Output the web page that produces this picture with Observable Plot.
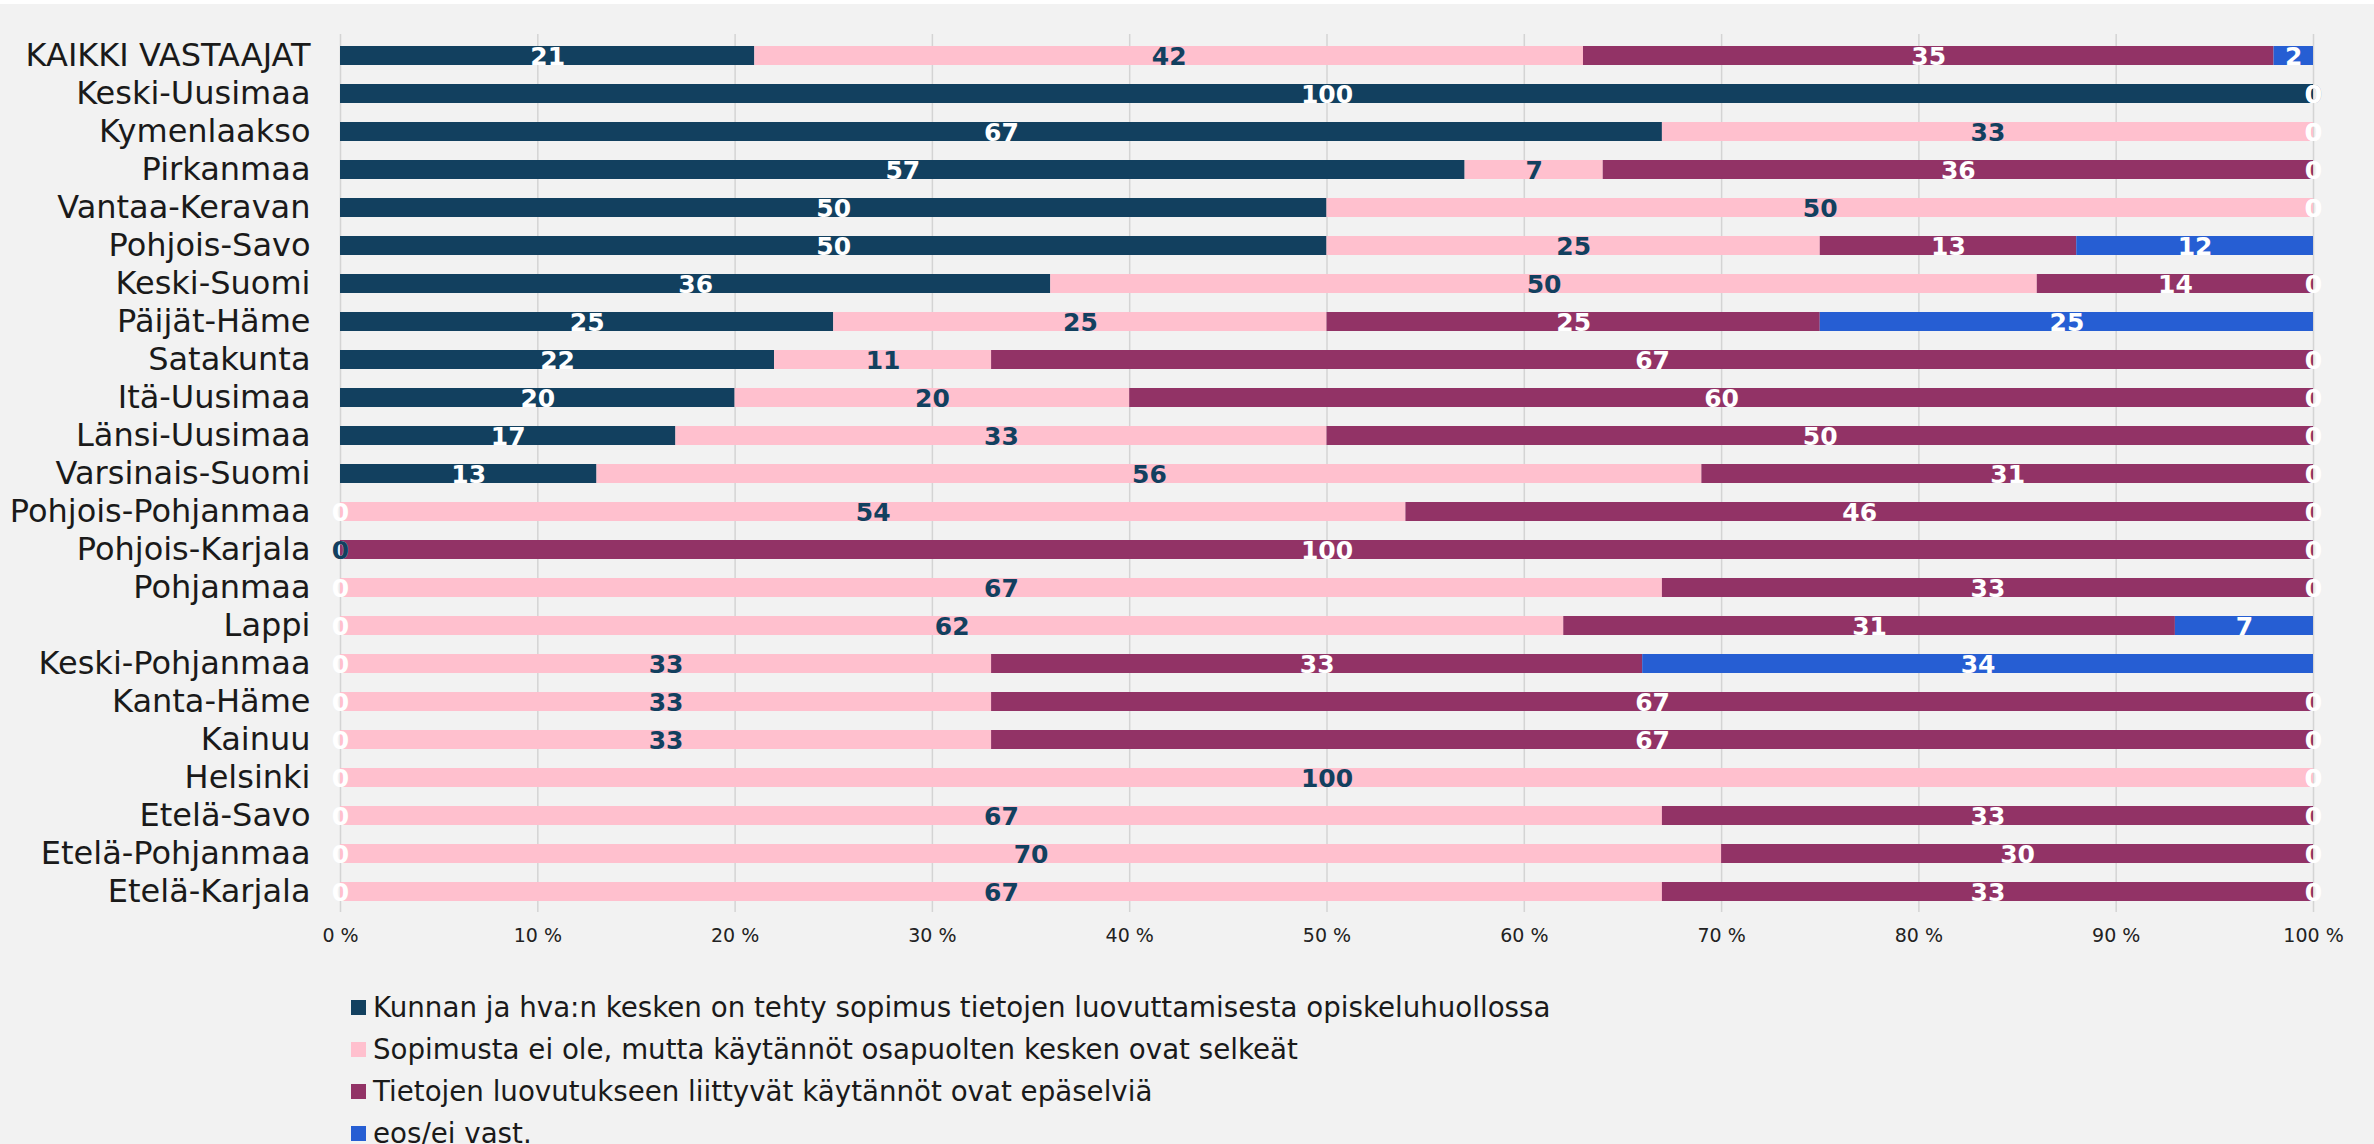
<!DOCTYPE html>
<html>
<head>
<meta charset="utf-8">
<script src="https://cdn.jsdelivr.net/npm/d3@7"></script>
<script src="https://cdn.jsdelivr.net/npm/@observablehq/plot@0.6"></script>
<style>
  html, body { margin: 0; padding: 0; background: #f2f2f2; }
  body { width: 2374px; height: 1144px; overflow: hidden; position: relative; font-family: "DejaVu Sans", sans-serif; }
  #topstrip { position: absolute; left: 0; top: 0; width: 2374px; height: 4px; background: #ffffff; }
  #chart { position: absolute; left: 0; top: 0; }
  #legend { position: absolute; left: 351px; top: 986.5px; }
  .item { display: flex; align-items: center; height: 42px; font-size: 27.7px; color: #1a1a1a; white-space: nowrap; }
  .sw { width: 15px; height: 15px; margin-right: 7px; flex: none; }
</style>
</head>
<body>
<div id="topstrip"></div>
<div id="chart"></div>
<div id="legend"></div>
<script>
const regions = [
  "KAIKKI VASTAAJAT", "Keski-Uusimaa", "Kymenlaakso", "Pirkanmaa", "Vantaa-Keravan",
  "Pohjois-Savo", "Keski-Suomi", "Päijät-Häme", "Satakunta", "Itä-Uusimaa",
  "Länsi-Uusimaa", "Varsinais-Suomi", "Pohjois-Pohjanmaa", "Pohjois-Karjala", "Pohjanmaa",
  "Lappi", "Keski-Pohjanmaa", "Kanta-Häme", "Kainuu", "Helsinki",
  "Etelä-Savo", "Etelä-Pohjanmaa", "Etelä-Karjala"
];
const seriesNames = [
  "Kunnan ja hva:n kesken on tehty sopimus tietojen luovuttamisesta opiskeluhuollossa",
  "Sopimusta ei ole, mutta käytännöt osapuolten kesken ovat selkeät",
  "Tietojen luovutukseen liittyvät käytännöt ovat epäselviä",
  "eos/ei vast."
];
const sopimus   = [21, 100, 67, 57, 50, 50, 36, 25, 22, 20, 17, 13, 0, 0, 0, 0, 0, 0, 0, 0, 0, 0, 0];
const selkeat   = [42, 0, 33, 7, 50, 25, 50, 25, 11, 20, 33, 56, 54, 0, 67, 62, 33, 33, 33, 100, 67, 70, 67];
const epaselvia = [35, 0, 0, 36, 0, 13, 14, 25, 67, 60, 50, 31, 46, 100, 33, 31, 33, 67, 67, 0, 33, 30, 33];
const eos       = [2, 0, 0, 0, 0, 12, 0, 25, 0, 0, 0, 0, 0, 0, 0, 7, 34, 0, 0, 0, 0, 0, 0];
const xTicks = [0, 10, 20, 30, 40, 50, 60, 70, 80, 90, 100];

const colors = ["#12405f", "#ffc0ce", "#923366", "#265ed3"];
const labelColors = ["#ffffff", "#12405f", "#ffffff", "#ffffff"];

const seriesValues = [sopimus, selkeat, epaselvia, eos];
const table = [];
regions.forEach((r, i) => {
  let acc = 0;
  seriesValues.forEach((vals, k) => {
    const v = vals[i];
    table.push({region: r, series: seriesNames[k], k, value: v, start: acc, end: acc + v});
    acc += v;
  });
});

const chart = Plot.plot({
  width: 2374,
  height: 960,
  marginLeft: 340,
  marginRight: 61,
  marginTop: 34,
  marginBottom: 48,
  style: {background: "transparent", fontFamily: "'DejaVu Sans', sans-serif", overflow: "visible"},
  x: {domain: [0, 100], label: null},
  y: {domain: regions, paddingInner: 0.5, paddingOuter: 0.25, label: null},
  color: {domain: seriesNames, range: colors},
  marks: [
    Plot.gridX(xTicks, {stroke: "#d4d4d4", strokeOpacity: 1, strokeWidth: 1.5}),
    Plot.axisX(xTicks, {tickSize: 0, tickPadding: 16, fontSize: 19, fill: "#222222", tickFormat: d => d + " %", label: null}),
    Plot.axisY({tickSize: 0, tickPadding: 30, fontSize: 32, fill: "#1a1a1a", label: null}),
    Plot.barX(table, {x1: "start", x2: "end", y: "region", fill: "series"}),
    ...seriesNames.map((s, k) => Plot.text(table.filter(d => d.k === k), {
      x: d => (d.start + d.end) / 2,
      y: "region",
      text: d => String(d.value),
      fill: labelColors[k],
      fontSize: 25,
      fontWeight: "bold",
      fontFamily: "'DejaVu Sans', sans-serif",
      dy: 1
    }))
  ]
});
document.getElementById("chart").appendChild(chart);

const legend = document.getElementById("legend");
seriesNames.forEach((s, k) => {
  const item = document.createElement("div");
  item.className = "item";
  const sw = document.createElement("span");
  sw.className = "sw";
  sw.style.background = colors[k];
  const t = document.createElement("span");
  t.textContent = s;
  item.appendChild(sw);
  item.appendChild(t);
  legend.appendChild(item);
});
</script>
</body>
</html>
